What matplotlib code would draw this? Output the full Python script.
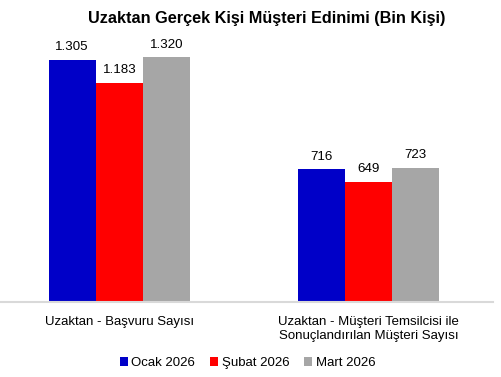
import numpy as np
import matplotlib
matplotlib.use('Agg')
import matplotlib.pyplot as plt

plt.rcParams['font.family'] = ['Liberation Sans', 'DejaVu Sans']

categories = ['Uzaktan - Başvuru Sayısı',
              'Uzaktan - Müşteri Temsilcisi ile\nSonuçlandırılan Müşteri Sayısı']
series_names = ['Ocak 2026', 'Şubat 2026', 'Mart 2026']
ocak = [1305, 716]
subat = [1183, 649]
mart = [1320, 723]
colors = ['#0000C8', '#FF0000', '#A6A6A6']

fig = plt.figure(figsize=(5.01, 3.77), dpi=100)
ax = fig.add_axes([0.0, 0.199, 0.984, 0.695])

x = np.arange(len(categories))
width = 0.19
for i, (vals, name, col) in enumerate(zip([ocak, subat, mart], series_names, colors)):
    bars = ax.bar(x + (i - 1) * width, vals, width, color=col, label=name)
    for b, v in zip(bars, vals):
        ax.text(b.get_x() + b.get_width() / 2, v + 36, f'{v:,}'.replace(',', '.'),
                ha='center', va='bottom', fontsize=9.6)

ax.set_xlim(-0.48, 1.5)
ax.set_ylim(0, 1413)
ax.set_yticks([])
ax.set_xticks(x)
ax.set_xticklabels(categories, fontsize=9.5, linespacing=1.25)
ax.tick_params(axis='x', length=0, pad=10)
for s in ['top', 'right', 'left']:
    ax.spines[s].set_visible(False)
ax.spines['bottom'].set_color('#D9D9D9')
ax.spines['bottom'].set_linewidth(1.5)

fig.text(0.533, 0.952, 'Uzaktan Gerçek Kişi Müşteri Edinimi (Bin Kişi)',
         ha='center', va='center', fontsize=11.7, fontweight='bold')

fig.legend(loc='center', bbox_to_anchor=(0.494, 0.037), ncol=3, frameon=False,
           fontsize=9.5, handlelength=0.65, handleheight=0.65, handletextpad=0.25,
           columnspacing=1.1)

fig.savefig('out.png', dpi=100)
